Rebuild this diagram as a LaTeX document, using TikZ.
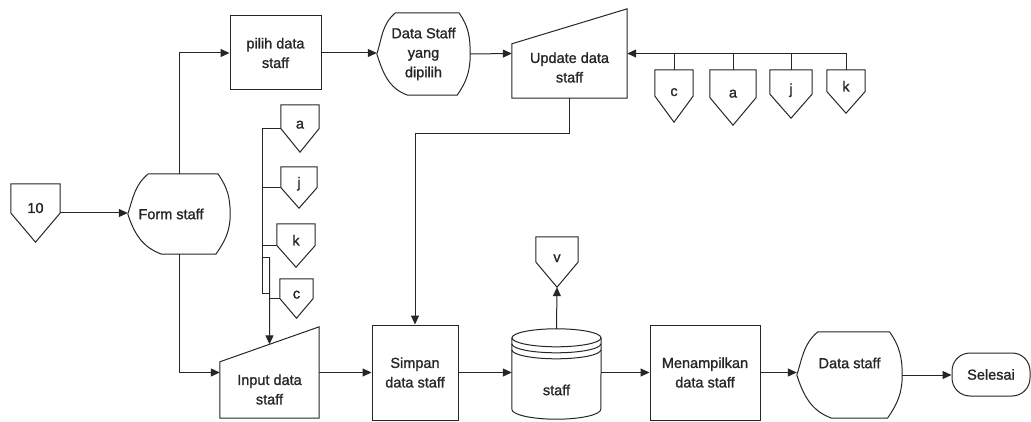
\documentclass[tikz,border=0pt]{standalone}
\usepackage{fontspec}
\setmainfont{Liberation Sans}[FakeBold=1.2]
\usetikzlibrary{arrows.meta,calc}
\definecolor{ink}{HTML}{262626}
\begin{document}
\begin{tikzpicture}[x=1pt,y=-1pt,
  sl/.style={draw=ink, line width=1pt, line join=miter},
  conn/.style={draw=ink, line width=1pt},
  arr/.style={conn, -{Triangle[length=9pt,width=8pt]}},
  every node/.style={font=\fontsize{14.5}{19.5}\selectfont, text=ink},
  every label/.style={align=center, inner sep=0pt},
  % plain process box
  proc/.style={sl, rectangle, align=center, inner sep=0pt},
  % terminator
  term/.style={sl, rounded corners=18pt, inner sep=0pt},
  % off-page connector: box with a pointed bottom
  offpage/.style={inner sep=0pt, append after command={\pgfextra{
    \draw[sl] (\tikzlastnode.north west) -- (\tikzlastnode.north east)
      -- (\tikzlastnode.east) -- (\tikzlastnode.south)
      -- (\tikzlastnode.west) -- cycle;}}},
  % manual input: slanted top edge
  manin/.style={inner sep=0pt, append after command={\pgfextra{
    \draw[sl] (\tikzlastnode.south west) -- ([yshift=-35pt]\tikzlastnode.north west)
      -- (\tikzlastnode.north east) -- (\tikzlastnode.south east) -- cycle;}}},
  % display symbol
  display/.style={inner sep=0pt, align=center, append after command={\pgfextra{
    \draw[sl]
      ($(\tikzlastnode.north west)!0.2!(\tikzlastnode.north east)$)
      -- ($(\tikzlastnode.north west)!0.88!(\tikzlastnode.north east)$)
      to[out=-55,in=90] (\tikzlastnode.east)
      to[out=-90,in=55] ($(\tikzlastnode.south west)!0.86!(\tikzlastnode.south east)$)
      -- ($(\tikzlastnode.south west)!0.33!(\tikzlastnode.south east)$)
      to[out=160,in=-72] (\tikzlastnode.west)
      to[out=72,in=-140] ($(\tikzlastnode.north west)!0.2!(\tikzlastnode.north east)$)
      -- cycle;}}},
  % magnetic disk storage
  disk/.style={inner sep=0pt, append after command={\pgfextra{
    \draw[sl] ([yshift=-9pt]\tikzlastnode.north west)
      -- ([yshift=10pt]\tikzlastnode.south west)
      arc[start angle=180,end angle=360,x radius=44.5pt,y radius=10pt]
      -- ([yshift=-9pt]\tikzlastnode.north east);
    \draw[sl] ([yshift=-9pt]\tikzlastnode.north) ellipse[x radius=44.5pt,y radius=9pt];
    \draw[sl] ([yshift=-15pt]\tikzlastnode.north west)
      arc[start angle=180,end angle=360,x radius=44.5pt,y radius=9pt];
    \draw[sl] ([yshift=-21pt]\tikzlastnode.north west)
      arc[start angle=180,end angle=360,x radius=44.5pt,y radius=9pt];}}}
]
\useasboundingbox[fill=white] (0,0) rectangle (1031,422);

% ---- nodes ----
\node[offpage, minimum width=49pt, minimum height=58pt] (c10) at (35.5,213) {\smash{10}};
\node[display, minimum width=102pt, minimum height=80pt,
      label={[xshift=-8pt]center:Form staff}] (form) at (179,214) {};
\node[proc, minimum width=91pt, minimum height=74pt] (pil) at (275.5,53) {pilih data\\staff};
\node[display, minimum width=93pt, minimum height=82pt] (dsp) at (423.5,54) {Data Staff\\yang\\dipilih};
\node[manin, minimum width=115pt, minimum height=89pt,
      label={[yshift=-14pt]center:Update data\\staff}] (upd) at (569.5,53.5) {};

\node[offpage, minimum width=38pt, minimum height=52pt] (c2) at (674,96) {\smash{c}};
\node[offpage, minimum width=46pt, minimum height=55pt] (a2) at (733,97.5) {\smash{a}};
\node[offpage, minimum width=42pt, minimum height=48pt] (j2) at (791,94) {\smash{j}};
\node[offpage, minimum width=38pt, minimum height=43pt] (k2) at (846,91.5) {\smash{k}};

\node[offpage, minimum width=38pt, minimum height=47pt] (a1) at (300,128.5) {\smash{a}};
\node[offpage, minimum width=36pt, minimum height=41pt] (j1) at (299,187.5) {\smash{j}};
\node[offpage, minimum width=38pt, minimum height=43pt] (k1) at (296,245.5) {\smash{k}};
\node[offpage, minimum width=33pt, minimum height=39pt] (c1) at (296.5,298.5) {\smash{c}};

\node[manin, minimum width=99pt, minimum height=91pt,
      label={[yshift=-17pt]center:Input data\\staff}] (inp) at (269.5,372.5) {};
\node[proc, minimum width=86pt, minimum height=95pt] (sim) at (415,372.5) {Simpan\\data staff};
\node[disk, minimum width=89pt, minimum height=90pt,
      label={[yshift=-16pt]center:staff}] (cyl) at (556.5,374) {};
\node[offpage, minimum width=42pt, minimum height=50pt] (v) at (557,262) {\smash{v}};
\node[proc, minimum width=110pt, minimum height=95pt] (men) at (705,372.5) {Menampilkan\\data staff};
\node[display, minimum width=105pt, minimum height=86pt,
      label={[yshift=12pt]center:Data staff}] (dst) at (849.5,375) {};
\node[term, minimum width=78pt, minimum height=43pt] (sel) at (991,374.5) {Selesai};

% ---- helper points on the left collector ----
\coordinate (inTop) at ($([yshift=-35pt]inp.north west)!0.5!(inp.north east)$);
\coordinate (b1) at (262,293);
\coordinate (b2) at (269.5,258);

% ---- connectors ----
\draw[arr] (c10.east) -- (c10.east -| form.west);
\draw[arr] (form.north) |- (pil.west);
\draw[arr] (form.south) |- (inp.west);
\draw[arr] (pil.east) -- (pil.east -| dsp.west);
\draw[arr] (dsp.east) -- (upd.west);
\draw[arr] (k2.north) |- (upd.east);
\draw[conn] (c2.north) -- (c2.north |- upd.east);
\draw[conn] (a2.north) -- (a2.north |- upd.east);
\draw[conn] (j2.north) -- (j2.north |- upd.east);
\draw[arr] (upd.south) -- ++(0,35) -| (sim.north);

\draw[conn] (a1.west) -| (b1) -- (b1 -| inTop);
\draw[conn] (j1.west) -- (j1.west -| b1);
\draw[conn] (k1.west) -- (k1.west -| b1);
\draw[conn] (b1 |- b2) -- (b2);
\draw[conn] (c1.west) -- (c1.west -| inTop);
\draw[arr] (b2) -- (inTop);

\draw[arr] (inp.east) -- (sim.west);
\draw[arr] (sim.east) -- (sim.east -| cyl.west);
\draw[arr] (cyl.north) -- (v.south);
\draw[arr] (men.west -| cyl.east) -- (men.west);
\draw[arr] (men.east) -- (men.east -| dst.west);
\draw[arr] (dst.east) -- (dst.east -| sel.west);
\end{tikzpicture}
\end{document}
